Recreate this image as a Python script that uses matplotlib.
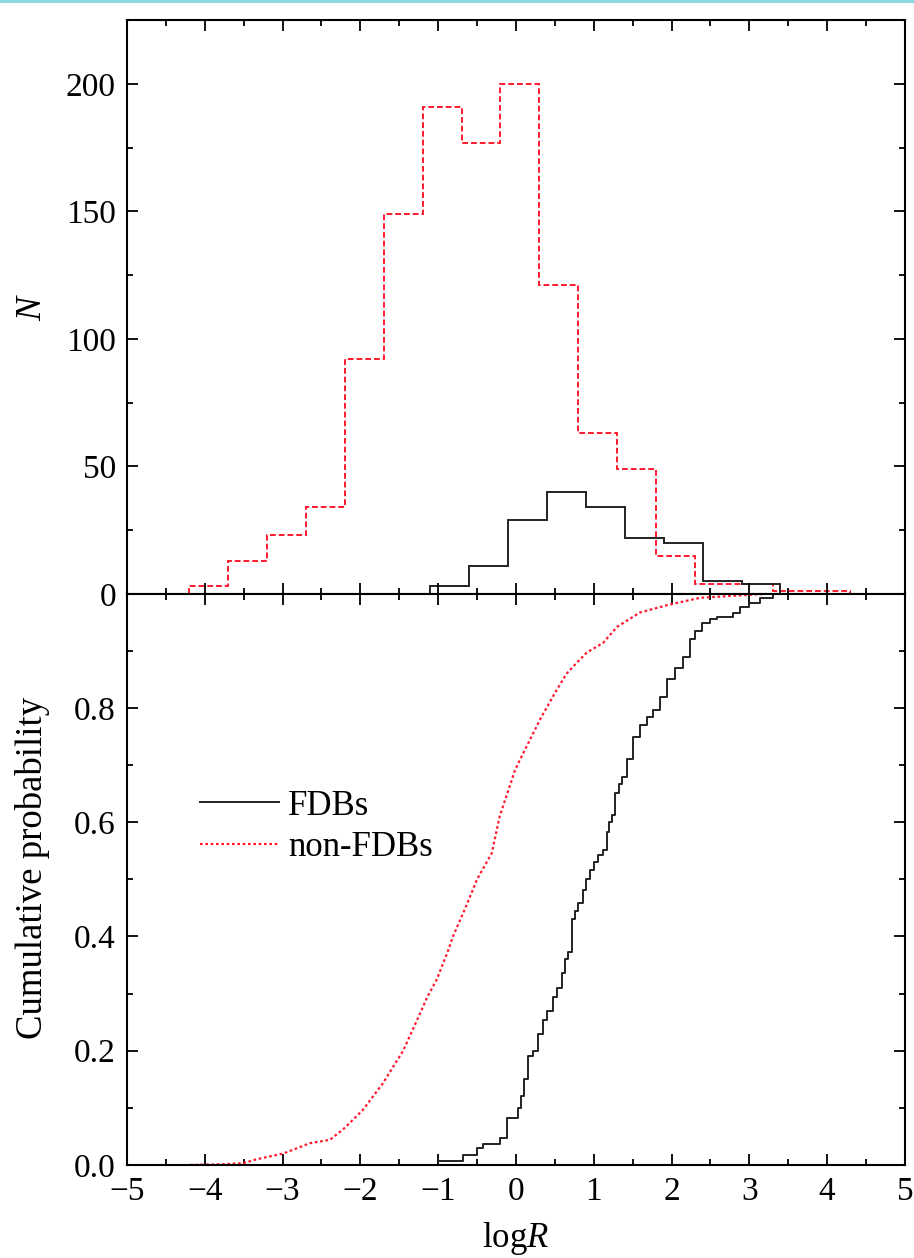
import matplotlib
matplotlib.use("Agg")
import matplotlib.pyplot as plt
from matplotlib.ticker import MultipleLocator

plt.rcParams['font.family'] = ['Liberation Serif', 'DejaVu Serif']
plt.rcParams['mathtext.fontset'] = 'custom'
plt.rcParams['mathtext.rm'] = 'Liberation Serif'
plt.rcParams['mathtext.it'] = 'Liberation Serif:italic'

# histogram data (bin edges and counts)
nonfdb_edges = [-4.2, -3.7, -3.2, -2.7, -2.2, -1.7, -1.2, -0.7, -0.2, 0.3,
                0.8, 1.3, 1.8, 2.3, 2.8, 3.3, 3.8, 4.3]
nonfdb_counts = [3, 13, 23, 34, 92, 149, 191, 177, 200, 121, 63, 49, 15, 4, 4, 1, 1]
fdb_edges = [-1.1, -0.6, -0.1, 0.4, 0.9, 1.4, 1.9, 2.4, 2.9, 3.4]
fdb_counts = [3, 11, 29, 40, 34, 22, 20, 5, 4]

# cumulative distributions
fdb_cdf_x = [-1.0, -0.68, -0.5, -0.42, -0.2, -0.12, 0.03, 0.07, 0.1, 0.15, 0.22,
             0.28, 0.35, 0.40, 0.48, 0.53, 0.59, 0.63, 0.67, 0.72, 0.76, 0.80,
             0.86, 0.90, 0.95, 1.0, 1.05, 1.12, 1.17, 1.20, 1.23, 1.27, 1.32,
             1.36, 1.43, 1.50, 1.60, 1.68, 1.76, 1.85, 1.94, 2.05, 2.15, 2.24,
             2.30, 2.39, 2.50, 2.58, 2.79, 2.88, 3.0, 3.14, 3.31]
fdb_cdf_p = [0.006, 0.018, 0.03, 0.036, 0.047, 0.082, 0.10, 0.12, 0.15, 0.19, 0.20,
             0.23, 0.254, 0.27, 0.294, 0.31, 0.336, 0.36, 0.373, 0.43, 0.445, 0.459,
             0.481, 0.50, 0.517, 0.53, 0.543, 0.552, 0.583, 0.60, 0.613, 0.651, 0.667,
             0.68, 0.71, 0.75, 0.77, 0.785, 0.797, 0.82, 0.85, 0.87, 0.89, 0.92,
             0.935, 0.949, 0.955, 0.96, 0.967, 0.976, 0.984, 0.993, 1.0]
nonfdb_cdf_x = [-4.19, -3.8, -3.51, -3.33, -2.99, -2.8, -2.65, -2.39, -2.2, -1.97,
                -1.71, -1.45, -1.23, -1.14, -1.02, -0.87, -0.81, -0.65, -0.50, -0.31,
                -0.21, -0.01, 0.09, 0.31, 0.50, 0.65, 0.78, 0.91, 1.12, 1.30, 1.59,
                1.94, 2.37, 3.23, 4.33]
nonfdb_cdf_p = [0.0, 0.001, 0.003, 0.01, 0.02, 0.03, 0.038, 0.044, 0.065, 0.096,
                0.143, 0.20, 0.266, 0.294, 0.324, 0.376, 0.40, 0.45, 0.50, 0.546,
                0.61, 0.692, 0.72, 0.78, 0.826, 0.86, 0.879, 0.897, 0.914, 0.942, 0.967,
                0.98, 0.993, 1.0, 1.0]

red = '#ff1a2e'
fs = 24

fig = plt.figure(figsize=(9.14, 12.58), dpi=100)
ax1 = fig.add_axes([0.139, 0.528, 0.851, 0.456])
ax2 = fig.add_axes([0.139, 0.074, 0.851, 0.454], sharex=ax1)

# top panel: histograms
ax1.stairs(nonfdb_counts, nonfdb_edges, color=red, lw=1.4, linestyle=(0, (3, 1.5)))
ax1.stairs(fdb_counts, fdb_edges, color='#222222', lw=1.4)
ax1.set_ylim(0, 225)
ax1.yaxis.set_major_locator(MultipleLocator(50))
ax1.yaxis.set_minor_locator(MultipleLocator(25))
ax1.set_ylabel('$N$', fontsize=26)
ax1.tick_params(labelbottom=False)

# bottom panel: cumulative probability
ax2.plot(fdb_cdf_x, fdb_cdf_p, color='#222222', lw=1.4, drawstyle='steps-post', label='FDBs')
ax2.plot(nonfdb_cdf_x, nonfdb_cdf_p, color=red, lw=1.6, linestyle=(0, (1.2, 1.2)), label='non-FDBs')
ax2.set_ylim(0, 1.0)
ax2.set_yticks([0.0, 0.2, 0.4, 0.6, 0.8])
ax2.yaxis.set_minor_locator(MultipleLocator(0.1))
ax2.set_ylabel('Cumulative probability', fontsize=26.5)
ax2.set_xlabel('log$R$', fontsize=25, labelpad=10)

ax2.set_xlim(-5, 5)
ax2.xaxis.set_minor_locator(MultipleLocator(0.5))
ax2.set_xticks(range(-5, 6))
ax2.set_xticklabels(['\u2212%d' % -v if v < 0 else str(v) for v in range(-5, 6)])

for ax in (ax1, ax2):
    ax.tick_params(which='both', direction='in', top=True, right=True, labelsize=fs, width=1.3, pad=8)
    ax.tick_params(which='major', length=8)
    ax.tick_params(which='minor', length=4.5)
    for s in ax.spines.values():
        s.set_linewidth(1.5)
ax1.yaxis.set_label_coords(-0.1, 0.5)
ax2.yaxis.set_label_coords(-0.099, 0.52)

ax2.legend(loc='upper left', bbox_to_anchor=(0.053, 0.712), frameon=False, fontsize=25,
           handlelength=2.3, handletextpad=0.25, labelspacing=0.25)

# cyan strip at the top edge of the screenshot
fig.add_artist(plt.Line2D([0, 1], [0.999, 0.999], transform=fig.transFigure,
                          color='#8ad8de', lw=3))

fig.savefig('out.png', dpi=100)
